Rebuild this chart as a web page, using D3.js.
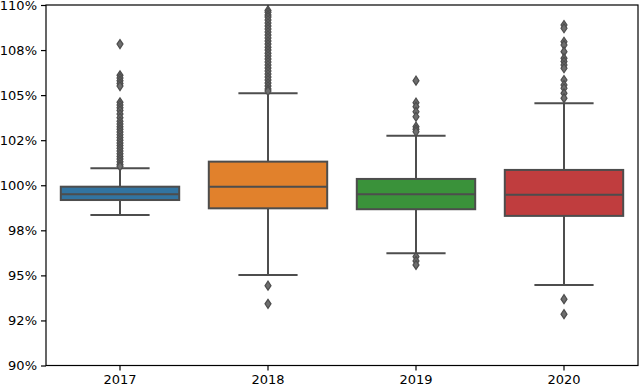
<!DOCTYPE html>
<html>
<head>
<meta charset="utf-8">
<script src="https://cdn.jsdelivr.net/npm/d3@7"></script>
<style>
  html, body { margin: 0; padding: 0; background: #fff; }
  svg { display: block; }
  text { font-family: "DejaVu Sans", sans-serif; }
</style>
</head>
<body>
<svg id="chart" width="640" height="387"></svg>
<script>
const categories = ["2017", "2018", "2019", "2020"];
const colors = ["#3274a1", "#e1812c", "#3a923a", "#c03d3e"];
const q1 = [99.18, 98.72, 98.67, 98.30];
const median = [99.50, 99.91, 99.50, 99.47];
const q3 = [99.92, 101.31, 100.35, 100.85];
const whiskerLow = [98.35, 95.02, 96.23, 94.47];
const whiskerHigh = [100.94, 105.10, 102.75, 104.55];
const outliers2017 = [107.83, 106.10, 105.95, 105.80, 105.65, 105.50, 104.60, 104.45, 104.30, 104.15,
  103.95, 103.75, 103.55, 103.40, 103.25, 103.10, 102.95, 102.80, 102.65, 102.50, 102.35,
  102.20, 102.05, 101.90, 101.75, 101.60, 101.45, 101.30, 101.15, 101.05];
const outliers2018 = [109.70, 109.60, 109.45, 109.33, 109.17, 109.00, 108.83, 108.67, 108.50,
  108.33, 108.17, 108.00, 107.83, 107.66, 107.50, 107.33, 107.17, 107.00, 106.84, 106.67,
  106.50, 106.34, 106.17, 106.00, 105.84, 105.67, 105.50, 105.34, 105.23, 94.43, 93.42];
const outliers2019 = [105.80, 104.58, 104.36, 104.08, 103.80, 103.25, 103.10, 102.97, 96.04, 95.80, 95.58];
const outliers2020 = [108.89, 108.71, 107.96, 107.78, 107.41, 107.04, 106.86, 106.67, 106.49,
  105.84, 105.56, 105.38, 105.10, 104.83, 93.68, 92.85];
const outliers = [outliers2017, outliers2018, outliers2019, outliers2020];
const yTicks = [90, 92.5, 95, 97.5, 100, 102.5, 105, 107.5, 110];
const yTickLabels = ["90%", "92%", "95%", "98%", "100%", "102%", "105%", "108%", "110%"];

const svg = d3.select("#chart");
const mLeft = 46, mRight = 638, mTop = 5, mBottom = 365.5;
const x = d3.scaleBand().domain(categories).range([mLeft, mRight]).padding(0);
const y = d3.scaleLinear().domain([90, 110]).range([mBottom, mTop]);
const lineCol = "#4d4d4d";
const bw = x.bandwidth() * 0.8;

const g = svg.append("g");
categories.forEach((c, i) => {
  const cx = x(c) + x.bandwidth() / 2;
  g.append("line").attr("x1", cx).attr("x2", cx).attr("y1", y(q3[i])).attr("y2", y(whiskerHigh[i]))
    .attr("stroke", lineCol).attr("stroke-width", 2);
  g.append("line").attr("x1", cx).attr("x2", cx).attr("y1", y(q1[i])).attr("y2", y(whiskerLow[i]))
    .attr("stroke", lineCol).attr("stroke-width", 2);
  [whiskerHigh[i], whiskerLow[i]].forEach(v => {
    g.append("line").attr("x1", cx - bw / 4).attr("x2", cx + bw / 4).attr("y1", y(v)).attr("y2", y(v))
      .attr("stroke", lineCol).attr("stroke-width", 2);
  });
  g.append("rect").attr("x", cx - bw / 2).attr("width", bw)
    .attr("y", y(q3[i])).attr("height", y(q1[i]) - y(q3[i]))
    .attr("fill", colors[i]).attr("stroke", lineCol).attr("stroke-width", 2);
  g.append("line").attr("x1", cx - bw / 2).attr("x2", cx + bw / 2)
    .attr("y1", y(median[i])).attr("y2", y(median[i]))
    .attr("stroke", lineCol).attr("stroke-width", 2);
  g.selectAll(null).data(outliers[i]).enter().append("path")
    .attr("d", "M0,-4.5L3,0L0,4.5L-3,0Z")
    .attr("transform", d => `translate(${cx},${y(d)})`)
    .attr("fill", "#6e6e6e").attr("stroke", lineCol).attr("stroke-width", 1.2);
});

const yAxis = d3.axisLeft(y).tickValues(yTicks).tickFormat((d, i) => yTickLabels[i]).tickSize(5).tickPadding(4);
const ya = svg.append("g").attr("transform", `translate(${mLeft},0)`).call(yAxis);
const xAxis = d3.axisBottom(x).tickSize(5).tickPadding(4);
const xa = svg.append("g").attr("transform", `translate(0,${mBottom})`).call(xAxis);
[ya, xa].forEach(a => {
  a.select(".domain").remove();
  a.selectAll(".tick line").attr("stroke", "#000").attr("stroke-width", 1.2);
  a.selectAll(".tick text").attr("font-size", 13).attr("fill", "#000").style("font-family", "DejaVu Sans");
});
svg.append("rect").attr("x", mLeft).attr("y", mTop).attr("width", mRight - mLeft).attr("height", mBottom - mTop)
  .attr("fill", "none").attr("stroke", "#000").attr("stroke-width", 1.2);
</script>
</body>
</html>
